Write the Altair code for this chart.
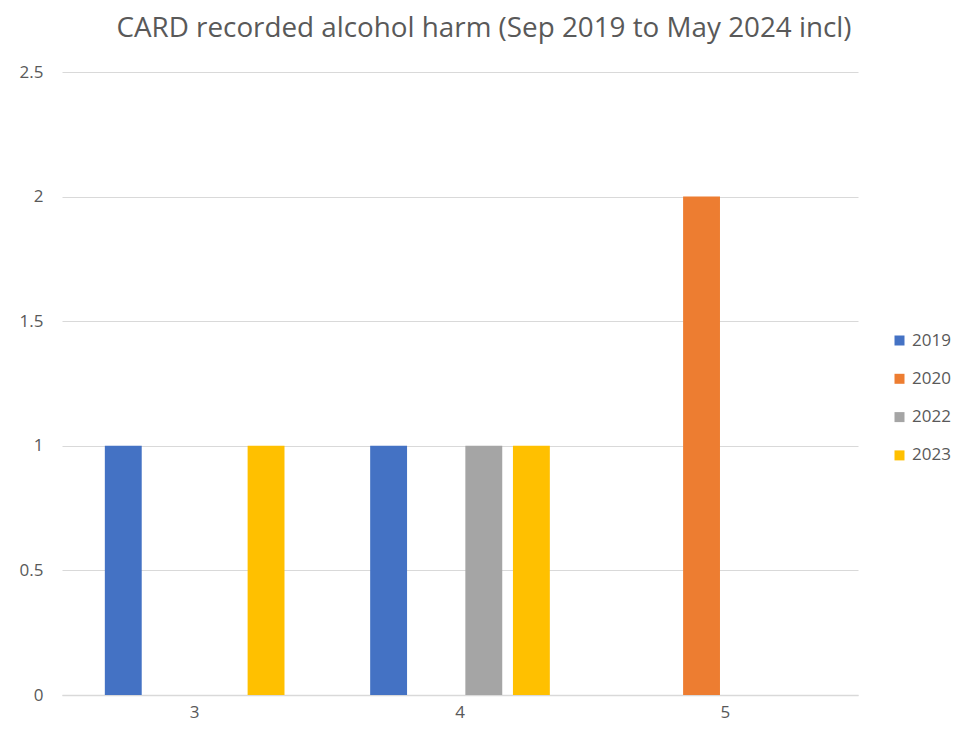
import altair as alt
import pandas as pd

categories = ["3", "4", "5"]
years = ["2019", "2020", "2022", "2023"]
v2019 = [1, 1, 0]
v2020 = [0, 0, 2]
v2022 = [0, 1, 0]
v2023 = [1, 1, 0]
colors = ["#4472C4", "#ED7D31", "#A5A5A5", "#FFC000"]

rows = []
for yr, vals in zip(years, [v2019, v2020, v2022, v2023]):
    for c, v in zip(categories, vals):
        rows.append({"cat": c, "year": yr, "value": v})
df = pd.DataFrame(rows)

FONT = "Open Sans"
GRAY = "#595959"

chart = alt.Chart(df).mark_bar().encode(
    x=alt.X("cat:N", sort=categories,
            scale=alt.Scale(paddingInner=0, paddingOuter=0),
            axis=alt.Axis(title=None, labelAngle=0, ticks=False, grid=False,
                          domainColor="#D9D9D9", domainWidth=1.5,
                          labelFont=FONT, labelFontSize=17, labelColor=GRAY,
                          labelPadding=9)),
    xOffset=alt.XOffset("year:N", sort=years,
                        scale=alt.Scale(paddingInner=0.225, paddingOuter=0.9)),
    y=alt.Y("value:Q", scale=alt.Scale(domain=[0, 2.5], nice=False),
            axis=alt.Axis(title=None, values=[0, 0.5, 1, 1.5, 2, 2.5], format="~g",
                          domain=False, ticks=False, gridColor="#D9D9D9",
                          labelFont=FONT, labelFontSize=17, labelColor=GRAY,
                          labelPadding=19)),
    color=alt.Color("year:N", sort=years,
                    scale=alt.Scale(domain=years, range=colors),
                    legend=alt.Legend(title=None, orient="none", legendX=829, legendY=260,
                                      symbolType="square", symbolSize=100,
                                      labelFont=FONT, labelFontSize=17, labelColor=GRAY,
                                      rowPadding=20.3, labelOffset=4, padding=0)),
).properties(
    width=796, height=623,
    title=alt.TitleParams("CARD recorded alcohol harm (Sep 2019 to May 2024 incl)",
                          font=FONT, fontSize=27.8, fontWeight="normal", color=GRAY,
                          anchor="middle", dx=24, dy=32, offset=30, baseline="alphabetic"),
    autosize=alt.AutoSizeParams(type="none"),
    padding={"left": 54, "top": 64, "right": 100, "bottom": 28},
).configure_view(stroke=None)

chart.save("out.html", embed_options={"renderer": "svg", "actions": False})
